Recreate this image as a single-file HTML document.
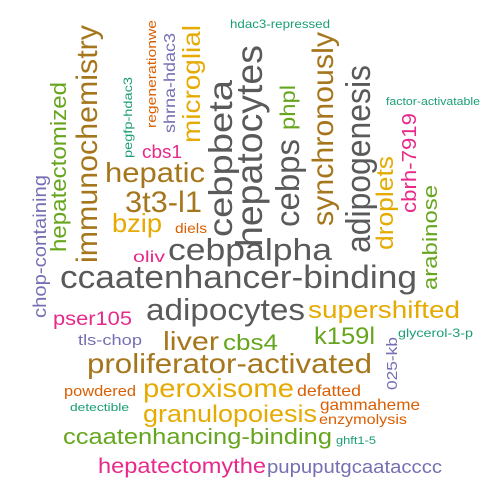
<!DOCTYPE html>
<html><head><meta charset="utf-8"><style>
html,body{margin:0;padding:0;background:#fff;}
svg{display:block;}
text{font-family:"Liberation Sans",sans-serif;}
</style></head><body>
<svg id="cloud" width="500" height="500" viewBox="0 0 500 500"></svg>
<script>
const words = ["ccaatenhancer-binding","cebpalpha","adipocytes","supershifted","pser105","tls-chop","liver","cbs4","k159l","glycerol-3-p","proliferator-activated","powdered","peroxisome","defatted","detectible","gammaheme","granulopoiesis","enzymolysis","ccaatenhancing-binding","ghft1-5","hepatectomythe","pupuputgcaatacccc","oliv","diels","bzip","3t3-l1","hepatic","cbs1","hdac3-repressed","factor-activatable",
"immunochemistry","hepatectomized","chop-containing","pegfp-hdac3","regenerationwe","shrna-hdac3","microglial","cebpbeta","hepatocytes","cebps","phpl","synchronously","adipogenesis","droplets","cbrh-7919","arabinose","025-kb"];
const xs = [60,168,146,308,53,78,163,223,314,398,87,64,143,297,70,320,143,319,63,336,98,267,133,175,112,125,105,142,230,386,
 97,66,46,132,156,175,200,232,262,299,295,333,370,393,416,437,397];
const ys = [288,260,320,318,325,345,350,350,344,337,373,396,397,396,411,410,422,424,444,444,473,473,262,233,232,212,182,158,28,105,
 263,252,318,158,128,133,143,237,247,227,130,226,253,250,213,290,390];
const sizes = [32,31,31,24,19,15,26,22,24,12,28,15,26,16,11,16,24,14,22,11,21,18,16,14,26,30,28,18,12,11,
 30,22,18,12,13,16,25,33,37,33,21,30,34,24,20,20,15];
const colors = ["#5a5a5a","#5a5a5a","#5a5a5a","#E6AB02","#E7298A","#7570B3","#A6761D","#66A61E","#66A61E","#1B9E77","#A6761D","#D95F02","#E6AB02","#D95F02","#1B9E77","#D95F02","#E6AB02","#D95F02","#66A61E","#1B9E77","#E7298A","#7570B3","#E7298A","#D95F02","#E6AB02","#A6761D","#A6761D","#E7298A","#1B9E77","#1B9E77",
 "#A6761D","#66A61E","#7570B3","#1B9E77","#D95F02","#7570B3","#E6AB02","#5a5a5a","#5a5a5a","#5a5a5a","#66A61E","#A6761D","#5a5a5a","#E6AB02","#E7298A","#66A61E","#7570B3"];
const lengths = [357,164,159,152,79,64,56,55,61,75,285,72,151,64,59,100,174,88,269,40,168,175,32,32,50,77,100,40,100,94,
 238,170,143,81,108,100,118,157,202,88,45,194,188,94,100,105,53];
const rotated = [0,0,0,0,0,0,0,0,0,0,0,0,0,0,0,0,0,0,0,0,0,0,0,0,0,0,0,0,0,0,
 1,1,1,1,1,1,1,1,1,1,1,1,1,1,1,1,1];
const svg = document.getElementById('cloud');
const NS = 'http://www.w3.org/2000/svg';
for (let i = 0; i < words.length; i++) {
  const t = document.createElementNS(NS, 'text');
  
  
  t.setAttribute('font-size', sizes[i]);
  t.setAttribute('fill', colors[i]);
  t.setAttribute('textLength', lengths[i]);
  t.setAttribute('lengthAdjust', 'spacingAndGlyphs');
  if (rotated[i]) {
    t.setAttribute('transform', 'translate(' + xs[i] + ',' + ys[i] + ') rotate(-90)');
    t.setAttribute('x', 0); t.setAttribute('y', 0);
  } else {
    t.setAttribute('x', xs[i]); t.setAttribute('y', ys[i]);
  }
  t.textContent = words[i];
  svg.appendChild(t);
}
</script>
</body></html>
